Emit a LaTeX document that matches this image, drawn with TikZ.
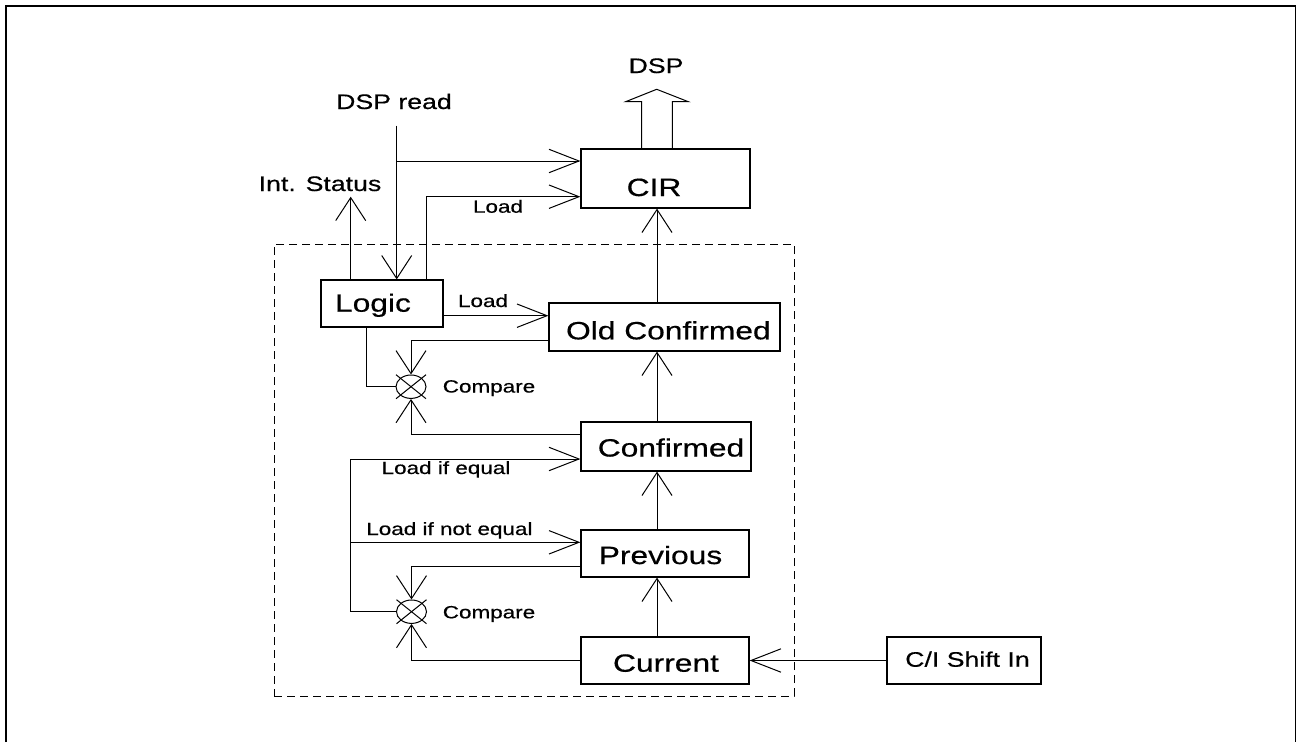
\documentclass[tikz,border=0pt]{standalone}
\usepackage{fontspec}
\setmainfont{Liberation Sans}[FakeStretch=1.27,FakeBold=0.5]
\usetikzlibrary{arrows.meta,shapes.geometric}
\begin{document}
\begin{tikzpicture}[x=1pt,y=-1pt,
  box/.style={draw, line width=1.2pt, inner sep=0pt, rectangle},
  big/.style={font=\fontsize{25}{25}\selectfont, anchor=base, inner sep=0pt},
  mid/.style={font=\fontsize{21}{21}\selectfont, anchor=base, inner sep=0pt},
  sml/.style={font=\fontsize{17.7}{18}\selectfont, anchor=base, inner sep=0pt},
  wire/.style={line width=1pt},
  va/.style={wire, -{Straight Barb[length=23pt,width=30pt]}},
  ha/.style={wire, -{Straight Barb[length=30pt,width=23.4pt]}},
  cmp/.style={draw, line width=1pt, ellipse, inner sep=0pt, minimum width=30pt, minimum height=23.4pt},
]
\useasboundingbox (0,0) rectangle (1296,742);
% frame
\draw[line width=2.5pt] (6,742) -- (6,6) -- (1296,6);
\draw[line width=1.3pt] (1295.3,6) -- (1295.3,742);
% dashed group
\node[draw, line width=1pt, dash pattern=on 8pt off 5pt, inner sep=0pt, minimum width=520pt, minimum height=452pt] (group) at (534,470) {};
% boxes
\node[box, minimum width=169pt, minimum height=59pt] (cir) at (665.5,178.5) {};
\node[box, minimum width=122pt, minimum height=47pt] (logic) at (382,303.5) {};
\node[box, minimum width=231pt, minimum height=48pt] (oc) at (664.5,327) {};
\node[box, minimum width=170pt, minimum height=49pt] (conf) at (666,446.5) {};
\node[box, minimum width=168pt, minimum height=47pt] (prev) at (665,553.5) {};
\node[box, minimum width=168pt, minimum height=47pt] (cur) at (665,660.5) {};
\node[box, minimum width=154pt, minimum height=47pt] (cis) at (964,660.5) {};
\node[cmp] (cmp1) at (411,386.7) {};
\node[cmp] (cmp2) at (411.5,611.7) {};
\draw[wire] ([shift={(-15,-12)}]cmp1.center) -- ([shift={(15,12)}]cmp1.center);
\draw[wire] ([shift={(-15,12)}]cmp1.center) -- ([shift={(15,-12)}]cmp1.center);
\draw[wire] ([shift={(-15,-12)}]cmp2.center) -- ([shift={(15,12)}]cmp2.center);
\draw[wire] ([shift={(-15,12)}]cmp2.center) -- ([shift={(15,-12)}]cmp2.center);
% texts
\node[big] (cirt) at (654,196) {CIR};
\node[big] (logict) at (373,311.7) {Logic};
\node[big] (oct) at (668.4,339.3) {Old Confirmed};
\node[big] (conft) at (671,456.5) {Confirmed};
\node[big] (prevt) at (660.5,564) {Previous};
\node[big] (curt) at (666,671.7) {Current};
\node[mid] (cist) at (967.5,666.7) {C/I Shift In};
\node[mid] (dspt) at (656,73) {DSP};
\node[mid] (dspreadt) at (394,109) {DSP read};
\node[mid] (intst) at (320,191) {Int. Status};
\node[sml] (load1) at (498,212.7) {Load};
\node[sml] (load2) at (483,307) {Load};
\node[sml] (cmp1t) at (489,392.5) {Compare};
\node[sml] (lie) at (446,474) {Load if equal};
\node[sml] (line) at (449.4,535) {Load if not equal};
\node[sml] (cmp2t) at (489,618.3) {Compare};
% helper coordinates
\coordinate (xdsr) at (396.7,125.7);
\coordinate (b161) at (396.7,161);
\coordinate (xload) at (426.7,196.7);
\coordinate (xint) at (350.7,196.7);
\coordinate (xv) at (657,0);
\coordinate (xl) at (366.7,0);
\coordinate (xleft) at (350.7,0);
\coordinate (y315) at (0,315.7);
\coordinate (y340) at (0,340);
\coordinate (y434) at (0,434.3);
\coordinate (y459) at (0,459);
\coordinate (y542) at (0,542.3);
\coordinate (y566) at (0,566);
% DSP output hollow arrow
\draw[wire, line join=miter] (641.7,149) -- (641.7,101.7) -- (625.7,101.7) -- (656.7,89.3) -- (688.3,101.7) -- (672.3,101.7) -- (672.3,149);
% connectors
\draw[va] (xdsr) -- (logic.north -| xdsr);
\draw[ha] (b161) -- (cir.west |- b161);
\draw[ha] (logic.north -| xload) -- (xload) -- (cir.west |- xload);
\draw[va] (logic.north -| xint) -- (xint);
\draw[va] (oc.north -| xv) -- (cir.south -| xv);
\draw[ha] (logic.east |- y315) -- (oc.west |- y315);
\draw[va] (oc.west |- y340) -- (cmp1.center |- y340) -- (cmp1.north);
\draw[wire] (logic.south -| xl) -- (xl |- cmp1.west) -- (cmp1.west);
\draw[va] (conf.west |- y434) -- (cmp1.center |- y434) -- (cmp1.south);
\draw[va] (conf.north -| xv) -- (oc.south -| xv);
\draw[va] (prev.north -| xv) -- (conf.south -| xv);
\draw[va] (cur.north -| xv) -- (prev.south -| xv);
\draw[ha] (cmp2.west) -- (xleft |- cmp2.west) -- (xleft |- y459) -- (conf.west |- y459);
\draw[ha] (xleft |- y542) -- (prev.west |- y542);
\draw[va] (prev.west |- y566) -- (cmp2.center |- y566) -- (cmp2.north);
\draw[va] (cur.west) -- (cmp2.center |- cur.west) -- (cmp2.south);
\draw[ha] (cis.west) -- (cur.east);
\end{tikzpicture}
\end{document}
